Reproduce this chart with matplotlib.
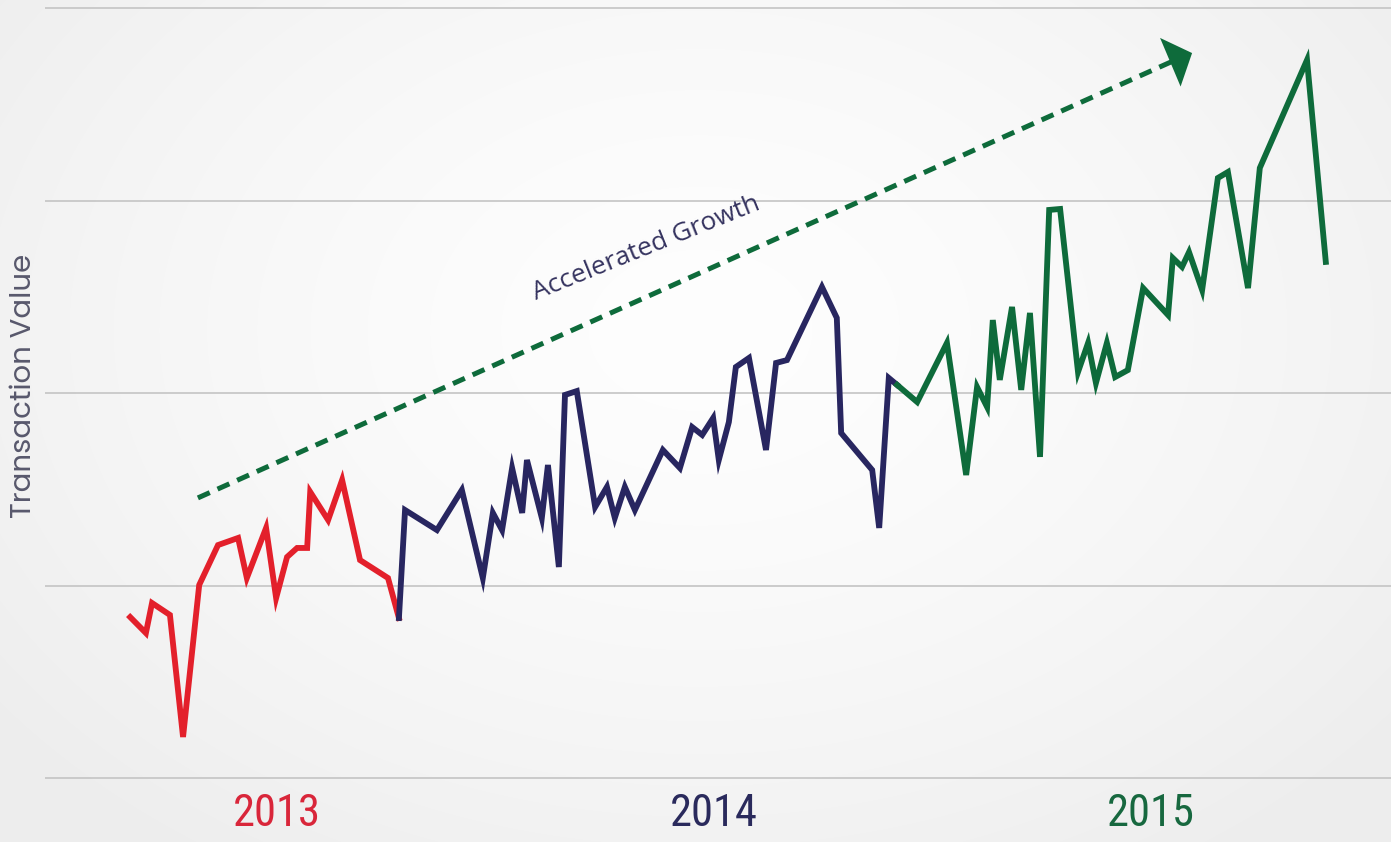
import numpy as np
import matplotlib
matplotlib.use("Agg")
import matplotlib.pyplot as plt
from matplotlib import font_manager

# ---------------- data (decimal year, transaction value index) ----------------
t_2013 = [2013.164, 2013.200, 2013.214, 2013.255, 2013.285, 2013.322, 2013.365,
          2013.411, 2013.431, 2013.475, 2013.498, 2013.523, 2013.546, 2013.569,
          2013.576, 2013.617, 2013.649, 2013.690, 2013.754, 2013.779]
v_2013 = [83.6, 75.3, 90.9, 84.7, 21.3, 100.3, 121.0, 124.7, 103.9, 129.9, 93.5,
          114.8, 119.5, 119.5, 148.6, 134.0, 154.8, 113.2, 103.9, 83.1]

t_2014 = [2013.779, 2013.793, 2013.866, 2013.923, 2013.971, 2013.994, 2014.015,
          2014.038, 2014.061, 2014.072, 2014.106, 2014.120, 2014.145, 2014.159,
          2014.186, 2014.228, 2014.255, 2014.273, 2014.296, 2014.319, 2014.383,
          2014.422, 2014.450, 2014.473, 2014.498, 2014.511, 2014.534, 2014.550,
          2014.580, 2014.619, 2014.642, 2014.667, 2014.747, 2014.781, 2014.791,
          2014.862, 2014.878, 2014.900, 2014.919]
v_2014 = [83.1, 139.2, 128.8, 149.6, 103.9, 137.7, 128.8, 161.0, 137.7, 165.2,
          135.1, 162.6, 109.6, 199.0, 201.0, 140.8, 151.2, 135.1, 151.2, 139.2,
          170.4, 161.0, 182.3, 178.2, 187.0, 165.2, 184.9, 213.5, 218.2, 170.4,
          215.6, 217.1, 255.1, 239.0, 179.2, 160.0, 129.9, 207.8, 204.2]

t_2015 = [2014.919, 2014.965, 2015.033, 2015.077, 2015.102, 2015.125, 2015.138,
          2015.154, 2015.182, 2015.203, 2015.223, 2015.246, 2015.267, 2015.292,
          2015.333, 2015.356, 2015.374, 2015.399, 2015.418, 2015.447, 2015.482,
          2015.539, 2015.550, 2015.571, 2015.587, 2015.617, 2015.653, 2015.676,
          2015.722, 2015.749, 2015.857, 2015.900]
v_2015 = [204.2, 195.3, 226.0, 157.4, 203.1, 192.7, 237.9, 206.8, 244.7, 201.6,
          241.6, 166.8, 295.1, 295.6, 210.9, 226.0, 205.2, 226.0, 208.3, 211.9,
          254.5, 240.5, 270.1, 265.5, 273.2, 253.5, 311.7, 314.8, 254.5, 316.9,
          373.0, 268.1]

year_labels = ["2013", "2014", "2015"]
year_pos = [2013.5, 2014.5, 2015.5]
grid_values = [0, 100, 200, 300, 400]

trend_start = (2013.319, 145.5)
trend_end = (2015.546, 372.0)
trend_tip = (2015.594, 376.6)

# ---------------- style ----------------
RED = "#e3202b"
NAVY = "#282660"
GREEN = "#0e6b3b"

fonts = font_manager.fontManager.ttflist
avail = {f.name for f in fonts}
regular = {f.name for f in fonts if f.weight in (400, "normal", "regular")}


def pick(prefs, pool, default="DejaVu Sans"):
    for p in prefs:
        if p in pool:
            return p
    return default


year_font = pick(["Roboto Condensed", "Liberation Sans Narrow", "Archivo Narrow",
                  "PT Sans Narrow"], avail, "Liberation Sans")
label_font = pick(["Poppins", "DejaVu Sans"], regular)
annot_font = pick(["Open Sans", "Noto Sans", "DejaVu Sans"], avail)
year_size = 32 if year_font != "Liberation Sans" else 29
label_size = 21

W, H = 1391, 842
fig = plt.figure(figsize=(W / 100, H / 100), dpi=100)

# background radial gradient
bg = fig.add_axes([0, 0, 1, 1])
yy, xx = np.mgrid[0:H, 0:W]
r = np.sqrt(((xx - 700) / 900.0) ** 2 + ((yy - 330) / 650.0) ** 2)
r = np.clip(r, 0, 1)
val = 0.995 - 0.065 * r ** 1.5
bg.imshow(np.dstack([val, val, val]), extent=[0, 1, 0, 1], aspect="auto",
          origin="upper")
bg.set_axis_off()

ax = fig.add_axes([0, 0, 1, 1])
ax.patch.set_alpha(0)
x0 = 2013.5 - 277 / 437
x1 = 2013.5 + (W - 277) / 437
ax.set_xlim(x0, x1)
ax.set_ylim((778 - 842) / 1.925, 778 / 1.925)
ax.set_axis_off()

grid_start = 2013.5 - 232 / 437
for g in grid_values:
    ax.plot([grid_start, x1], [g, g], color="#c4c4c4", lw=1.2, zorder=1,
            solid_capstyle="butt")

lw = 4.2
ax.plot(t_2013, v_2013, color=RED, lw=lw, zorder=3, solid_joinstyle="miter")
ax.plot(t_2014, v_2014, color=NAVY, lw=lw, zorder=3, solid_joinstyle="miter")
ax.plot(t_2015, v_2015, color=GREEN, lw=lw, zorder=3, solid_joinstyle="miter")

# trend arrow
ax.plot([trend_start[0], trend_end[0]], [trend_start[1], trend_end[1]],
        color=GREEN, lw=3.6, linestyle=(0, (2.6, 1.7)), dash_capstyle="butt",
        zorder=2)
ax.annotate("", xy=trend_tip, xytext=trend_end,
            arrowprops=dict(arrowstyle="-|>,head_length=0.85,head_width=0.95",
                            mutation_scale=20, lw=0, color=GREEN,
                            shrinkA=0, shrinkB=0), zorder=2)

ax.text(2014.344, 275.3, "Accelerated Growth", rotation=22, rotation_mode="anchor",
        ha="center", va="center", fontsize=19, color="#35335f", fontweight=400,
        family=[annot_font, "DejaVu Sans"], zorder=4)

# axis label
fig.text(24 / W, 1 - 386 / H, "Transaction Value", rotation=90, ha="center",
         va="center", fontsize=label_size, color="#58586c", fontweight=400,
         family=[label_font, "DejaVu Sans"])

# year labels
for lab, pos, col in zip(year_labels, year_pos, ["#d9263a", "#2a2a5c", "#17683f"]):
    ax.text(pos, (778 - 814) / 1.925, lab, ha="center", va="center",
            fontsize=year_size, color=col, family=[year_font, "DejaVu Sans"])

fig.savefig("out.png", dpi=100)
